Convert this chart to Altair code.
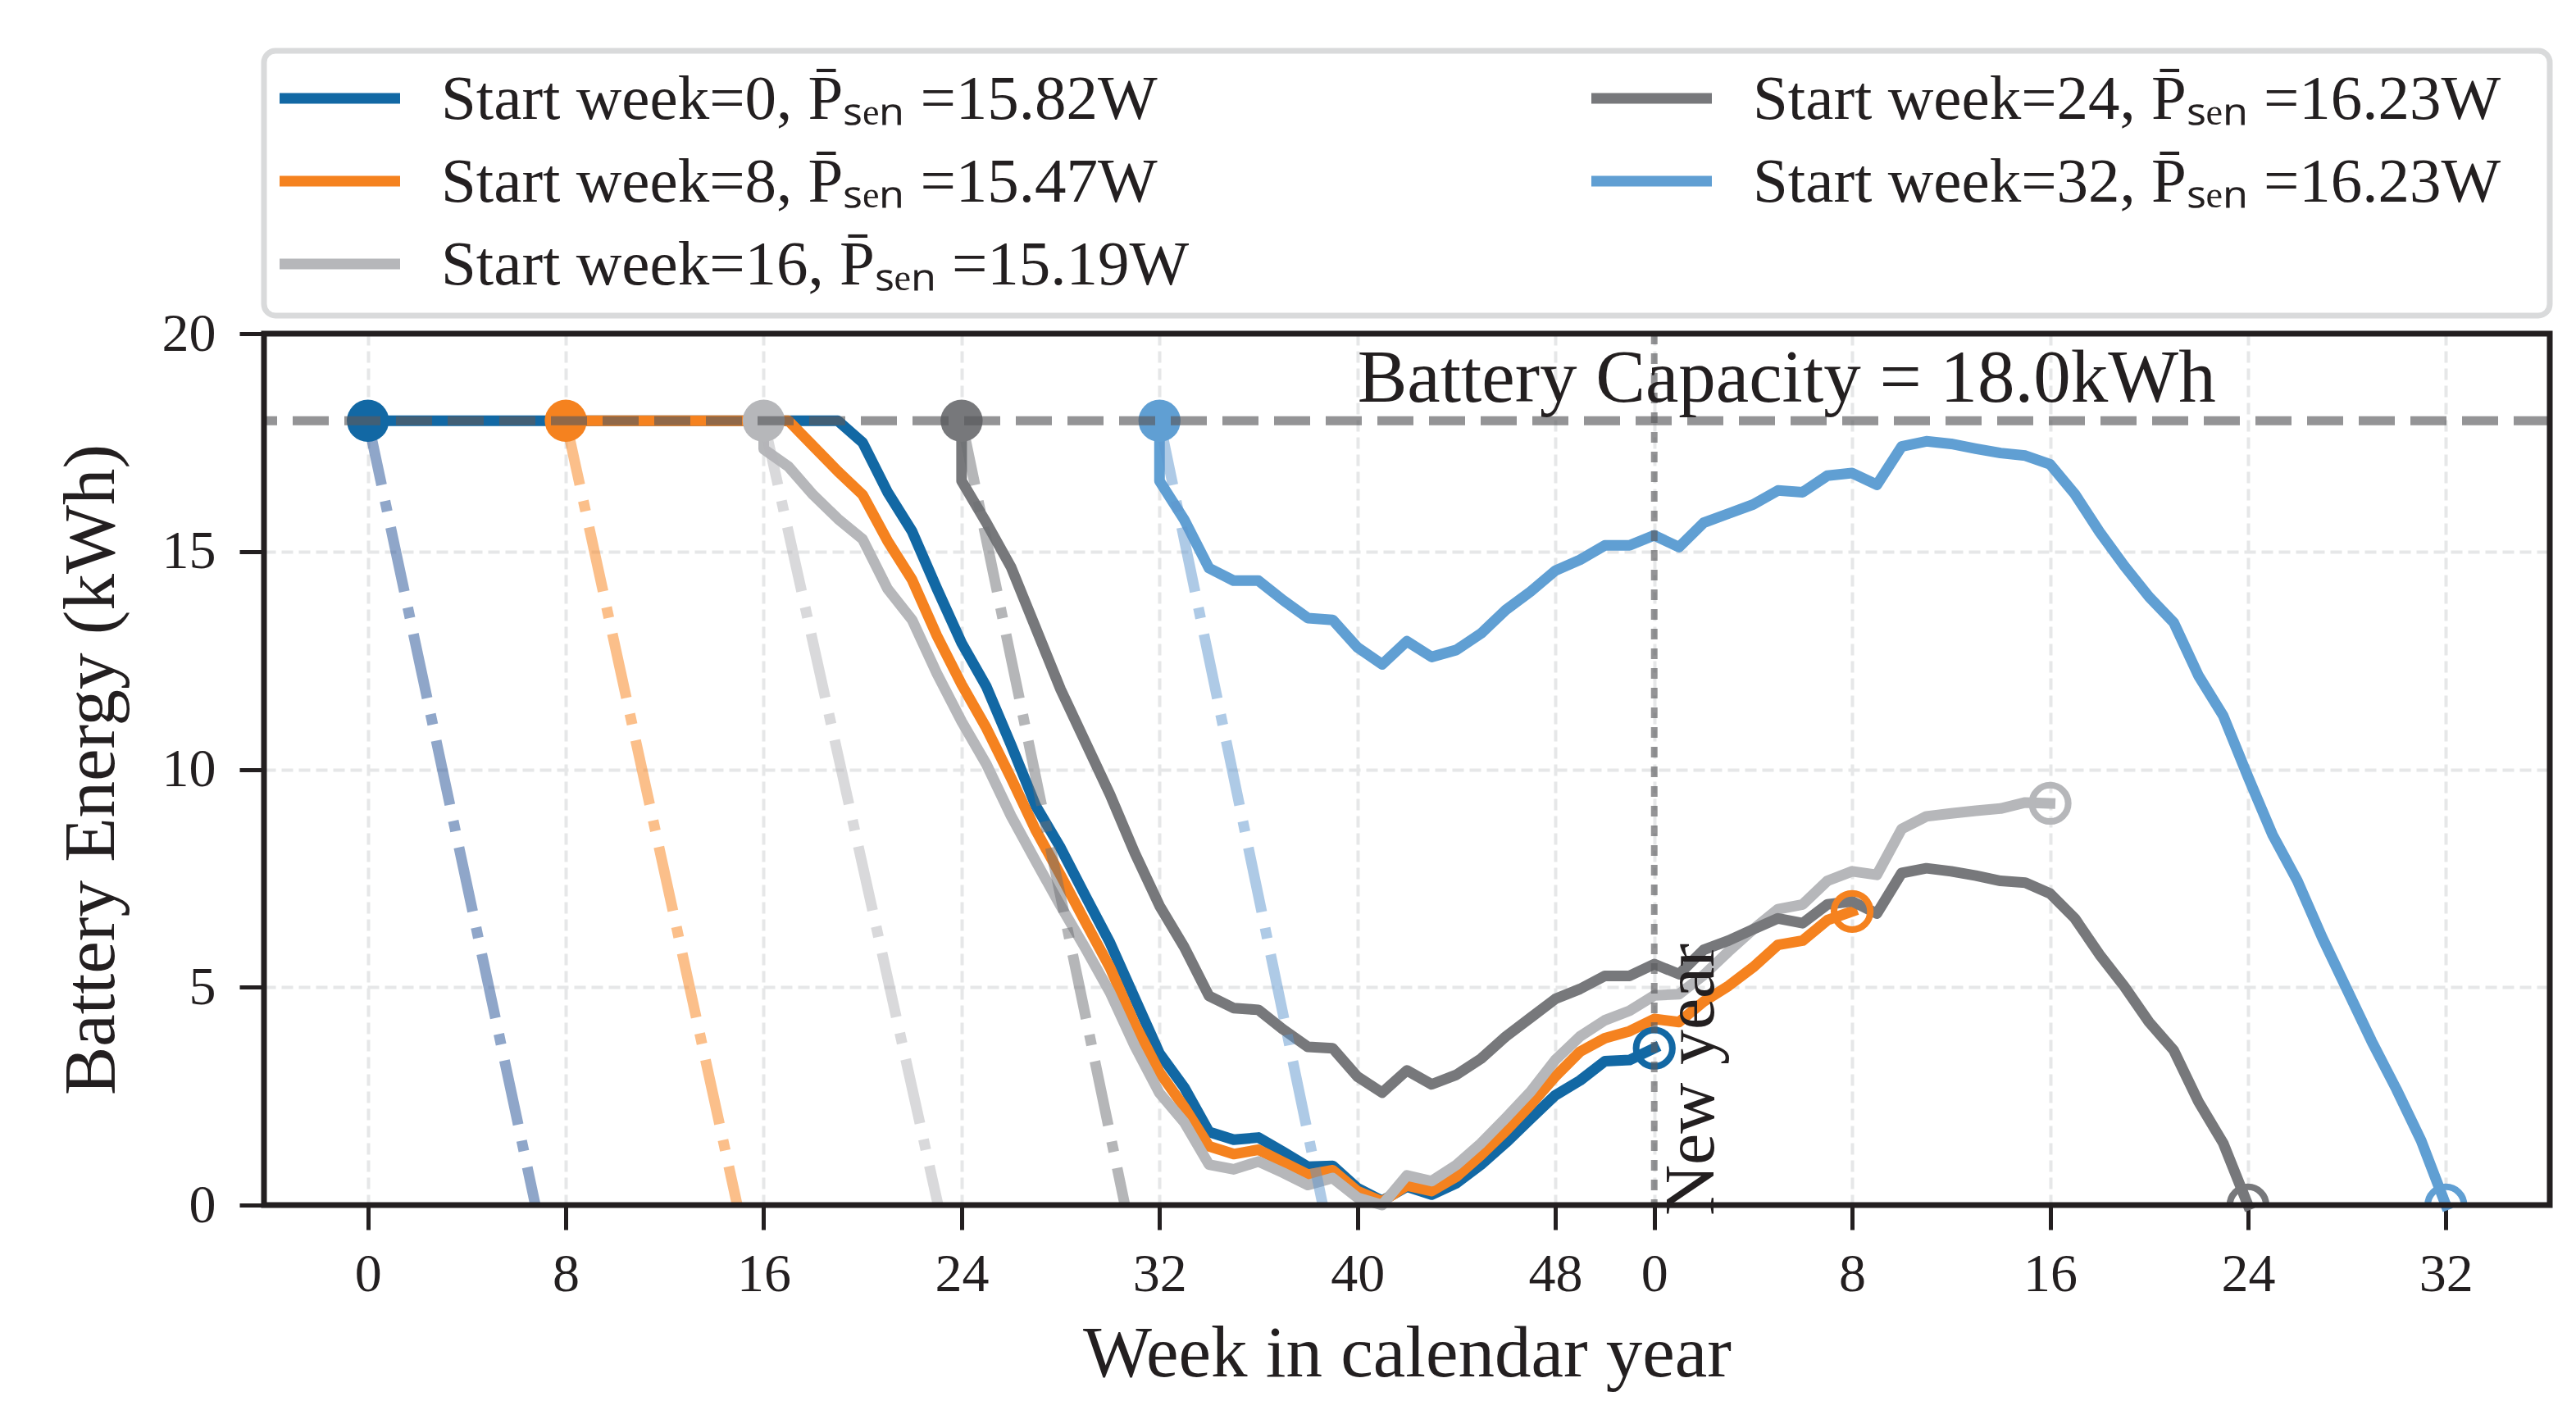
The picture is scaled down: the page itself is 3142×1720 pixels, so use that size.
import altair as alt
import pandas as pd

# Simulation runs: start week and mean sensor power (W)
start_weeks = [0, 8, 16, 24, 32]
mean_power_w = [15.82, 15.47, 15.19, 16.23, 16.23]
line_colors = ["#1268a4", "#f5821f", "#b6b7ba", "#77787b", "#609fd3"]
# half-transparent colours of the no-solar discharge lines
nosolar_colors = ["#1f4e94", "#f77f15", "#b3b3b7", "#6b6d71", "#5d95cd"]

battery_capacity_kwh = 18.0
new_year_week = 52

# Weekly battery energy (kWh); weeks above 52 fall in the following calendar year.
weeks_0 = list(range(0, 53))
energy_0 = [18.0, 18.0, 18.0, 18.0, 18.0, 18.0, 18.0, 18.0, 18.0, 18.0,
            18.0, 18.0, 18.0, 18.0, 18.0, 18.0, 18.0, 18.0, 18.0, 18.0,
            17.5, 16.37, 15.46, 14.15, 12.9, 11.9, 10.56, 9.16, 8.2, 7.1,
            6.02, 4.75, 3.48, 2.7, 1.68, 1.5, 1.55, 1.22, 0.88, 0.9,
            0.39, 0.1, 0.42, 0.24, 0.5, 0.93, 1.43, 1.98, 2.52, 2.86,
            3.3, 3.33, 3.6]

weeks_8 = list(range(8, 61))
energy_8 = [18.0, 18.0, 18.0, 18.0, 18.0, 18.0, 18.0, 18.0, 18.0, 18.0,
            17.42, 16.84, 16.3, 15.25, 14.35, 13.07, 11.95, 10.95, 9.8, 8.6,
            7.57, 6.5, 5.45, 4.15, 3.05, 2.25, 1.35, 1.17, 1.27, 0.98,
            0.7, 0.8, 0.32, 0.08, 0.45, 0.32, 0.65, 1.15, 1.7, 2.3,
            2.95, 3.52, 3.83, 3.99, 4.27, 4.2, 4.67, 5.03, 5.46, 5.97,
            6.07, 6.54, 6.74]

weeks_16 = [16] + list(range(16, 69))
energy_16 = [18.0, 17.35, 16.95, 16.3, 15.75, 15.28, 14.15, 13.43, 12.2, 11.1,
             10.12, 8.93, 7.89, 6.87, 5.9, 4.88, 3.65, 2.57, 1.9, 0.93,
             0.82, 1.0, 0.74, 0.46, 0.62, 0.17, 0.0, 0.68, 0.55, 0.92,
             1.42, 2.0, 2.6, 3.33, 3.87, 4.24, 4.46, 4.81, 4.84, 5.28,
             5.82, 6.33, 6.79, 6.9, 7.44, 7.66, 7.58, 8.63, 8.92, 8.99,
             9.05, 9.1, 9.24, 9.22]

weeks_24 = [24] + list(range(24, 77))
energy_24 = [18.0, 16.62, 15.66, 14.64, 13.24, 11.84, 10.63, 9.42, 8.08, 6.87,
             5.92, 4.8, 4.52, 4.48, 4.03, 3.63, 3.6, 2.95, 2.58, 3.09,
             2.77, 2.99, 3.36, 3.87, 4.3, 4.73, 4.96, 5.26, 5.26, 5.53,
             5.3, 5.86, 6.07, 6.33, 6.58, 6.47, 6.9, 6.97, 6.69, 7.62,
             7.73, 7.66, 7.56, 7.44, 7.4, 7.15, 6.58, 5.75, 5.02, 4.2,
             3.55, 2.37, 1.42, 0.0]

weeks_32 = [32] + list(range(32, 85))
energy_32 = [18.0, 16.62, 15.73, 14.62, 14.33, 14.33, 13.88, 13.47, 13.43, 12.8,
             12.41, 12.94, 12.58, 12.74, 13.12, 13.66, 14.08, 14.56, 14.81, 15.14,
             15.14, 15.37, 15.1, 15.66, 15.87, 16.08, 16.4, 16.36, 16.74, 16.8,
             16.53, 17.41, 17.53, 17.47, 17.36, 17.26, 17.2, 17.0, 16.32, 15.45,
             14.67, 13.96, 13.37, 12.15, 11.23, 9.83, 8.49, 7.44, 6.14, 4.95,
             3.76, 2.66, 1.48, 0.0]

# Week at which a full battery is empty without any solar input
empty_week_no_solar = [6.77, 14.93, 23.05, 30.6, 38.6]

# Axis ticks: position on the running week scale; the label is the week in its calendar year
x_tick_weeks = [0, 8, 16, 24, 32, 40, 48, 52, 60, 68, 76, 84]
y_ticks = [0, 5, 10, 15, 20]

# ---------------------------------------------------------------- tables
week_lists = [weeks_0, weeks_8, weeks_16, weeks_24, weeks_32]
energy_lists = [energy_0, energy_8, energy_16, energy_24, energy_32]
keys = [f"w{s:02d}" for s in start_weeks]
labels = [f"Start week={s}, P\u0304\u209b\u2091\u2099 ={p:.2f}W"
          for s, p in zip(start_weeks, mean_power_w)]

curve_rows = []
for key, wk, en in zip(keys, week_lists, energy_lists):
    for i, (w, e) in enumerate(zip(wk, en)):
        curve_rows.append({"key": key, "week": w, "energy": e, "step": i})
curves = pd.DataFrame(curve_rows)

starts = pd.DataFrame({"key": keys, "week": start_weeks,
                       "energy": [battery_capacity_kwh] * len(keys)})
ends = pd.DataFrame({"key": keys, "week": [wk[-1] for wk in week_lists],
                     "energy": [en[-1] for en in energy_lists]})

nosolar_rows = []
for key, s, e in zip(keys, start_weeks, empty_week_no_solar):
    nosolar_rows.append({"nkey": "n" + key, "week": s, "energy": battery_capacity_kwh, "step": 0})
    nosolar_rows.append({"nkey": "n" + key, "week": e, "energy": 0.0, "step": 1})
nosolar = pd.DataFrame(nosolar_rows)

legend_df = pd.DataFrame({"key": keys, "label": labels, "slot": list(range(len(keys)))})

# ---------------------------------------------------------------- styling
W, H = 2788, 1063
ink = "#231f20"
font = "Liberation Serif"
grid_color = "#e6e7e8"
ref_gray = "#5a5a5d"
lw = 13

x_scale = alt.Scale(domain=[-4.2, 88.2], nice=False, zero=False)
y_scale = alt.Scale(domain=[0, 20], nice=False, zero=False)
all_keys = keys + ["n" + k for k in keys]
color_scale = alt.Scale(domain=all_keys, range=line_colors + nosolar_colors)
color = alt.Color("key:N", scale=color_scale, legend=None)

common_axis = dict(grid=True, gridColor=grid_color, gridDash=[14, 7], gridWidth=4,
                   domain=False, tickColor=ink, tickSize=30, tickWidth=5,
                   labelFont=font, labelFontSize=66, labelColor=ink, labelFlush=False,
                   labelOverlap=False, titleFont=font, titleFontSize=89,
                   titleFontWeight="normal", titleColor=ink)

x_axis = alt.Axis(values=x_tick_weeks,
                  labelExpr="datum.value >= 52 ? '' + (datum.value - 52) : '' + datum.value",
                  title="Week in calendar year", labelPadding=22,
                  titleX=W / 2, titleY=208, titleBaseline="alphabetic", titleAlign="center",
                  **common_axis)
y_axis = alt.Axis(values=y_ticks, title="Battery Energy (kWh)", labelPadding=29,
                  titleX=-184, titleY=H / 2, titleAngle=270, titleBaseline="alphabetic",
                  titleAlign="center", **common_axis)

X = alt.X("week:Q")
Y = alt.Y("energy:Q")

# ---------------------------------------------------------------- layers
lines = alt.Chart(curves).mark_line(strokeWidth=lw, strokeJoin="round", strokeCap="square").encode(
    x=alt.X("week:Q", scale=x_scale, axis=x_axis),
    y=alt.Y("energy:Q", scale=y_scale, axis=y_axis),
    color=color, detail="key:N", order="step:Q")

dashdots = alt.Chart(nosolar).mark_line(strokeWidth=lw, strokeDash=[80, 20, 13, 20],
                                        opacity=0.5, strokeCap="butt").encode(
    x=X, y=Y, color=alt.Color("nkey:N", scale=color_scale, legend=None),
    detail="nkey:N", order="step:Q")

start_pts = alt.Chart(starts).mark_circle(size=2640, opacity=1).encode(x=X, y=Y, color=color)

end_pts = alt.Chart(ends).mark_point(shape="circle", filled=False, size=1960, strokeWidth=8,
                                     opacity=1, clip=True).encode(x=X, y=Y, color=color)

cap_rule = alt.Chart(pd.DataFrame({"energy": [battery_capacity_kwh]})).mark_rule(
    color=ref_gray, opacity=0.65, strokeWidth=11, strokeDash=[44, 19]).encode(y=Y)

ny_rule = alt.Chart(pd.DataFrame({"week": [new_year_week]})).mark_rule(
    color=ref_gray, opacity=0.65, strokeWidth=8, strokeDash=[13, 11]).encode(x=X)

cap_text = alt.Chart(pd.DataFrame({
    "week": [40], "energy": [battery_capacity_kwh],
    "text": [f"Battery Capacity = {battery_capacity_kwh:.1f}kWh"]})).mark_text(
    align="left", baseline="alphabetic", dy=-23, font=font, fontSize=91, color=ink).encode(
    x=X, y=Y, text="text:N")

ny_text = alt.Chart(pd.DataFrame({"week": [new_year_week], "energy": [0.0],
                                  "text": ["New year"]})).mark_text(
    angle=270, align="left", baseline="alphabetic", dx=-13, dy=72,
    font=font, fontSize=86, color=ink).encode(x=X, y=Y, text="text:N")

frame = alt.Chart(pd.DataFrame({"k": [0]})).mark_rect(
    fillOpacity=0, stroke=ink, strokeWidth=7).encode(
    x=alt.value(0), x2=alt.value(W), y=alt.value(0), y2=alt.value(H))

# legend drawn above the plot, two columns filled top to bottom
legend_box = alt.Chart(pd.DataFrame({"k": [0]})).mark_rect(
    fill="white", stroke="#d9dadb", strokeWidth=7, cornerRadius=14).encode(
    x=alt.value(0), x2=alt.value(W), y=alt.value(-345), y2=alt.value(-22))

legend_base = alt.Chart(legend_df).transform_calculate(
    col="floor(datum.slot / 3)", row="datum.slot % 3").transform_calculate(
    sx="19 + 1600 * datum.col", sy="-287 + 101 * datum.row").transform_calculate(
    sx2="datum.sx + 147", tx="datum.sx + 197", ty="datum.sy + 25")

legend_lines = legend_base.mark_rule(strokeWidth=lw, strokeCap="butt").encode(
    x=alt.X("sx:Q", scale=None, axis=None), x2="sx2:Q",
    y=alt.Y("sy:Q", scale=None, axis=None), color=color)

legend_text = legend_base.mark_text(align="left", baseline="alphabetic", font=font,
                                    fontSize=77, color=ink).encode(
    x=alt.X("tx:Q", scale=None, axis=None), y=alt.Y("ty:Q", scale=None, axis=None),
    text="label:N")

chart = alt.layer(lines, dashdots, start_pts, end_pts, cap_rule, ny_rule, cap_text, ny_text,
                  frame, legend_box, legend_lines, legend_text).properties(
    width=W, height=H,
    autosize=alt.AutoSizeParams(type="none"),
    padding={"left": 322, "top": 407, "right": 32, "bottom": 250},
    background="white",
).configure_view(strokeWidth=0)

chart.save("out.html", embed_options={"renderer": "svg", "actions": False})
